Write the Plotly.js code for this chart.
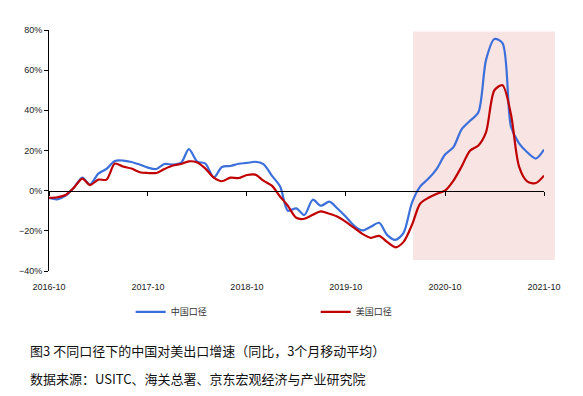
<!DOCTYPE html>
<html>
<head>
<meta charset="utf-8">
<script src="https://cdn.plot.ly/plotly-3.0.1.min.js"></script>
<style>html,body{margin:0;padding:0;background:#fff;}#chart{width:583px;height:396px;}</style>
</head>
<body>
<div id="chart"></div>
<script>
// Months 2016-10 .. 2021-10
const months = [];
for (let i = 0; i <= 60; i++) {
  const y = 2016 + Math.floor((9 + i) / 12);
  const m = ((9 + i) % 12) + 1;
  months.push(y + '-' + String(m).padStart(2, '0') + '-01');
}
const chinaCaliber = [
  -3.6, -4.3, -2.5, 1.5, 6.5, 3, 8.5, 10.8, 14.8, 15,
  14.3, 13, 11.5, 10.8, 13.3, 13, 14, 20.7, 14.5, 13.5,
  6.5, 11.8, 12.3, 13.4, 13.8, 14.4, 13.2, 7.5, 2, -10,
  -8.8, -12.1, -4.5, -7.5, -5.5, -9, -13, -17.5, -19.8, -18,
  -16, -22, -24.5, -21, -6, 2, 6, 11, 18, 21.7,
  30.5, 34.8, 39, 65, 75.5, 73.5, 32, 23.5, 19, 16,
  20.5
];
const usCaliber = [
  -3.6, -3.3, -2.2, 1.5, 6, 2.8, 5.5, 5.5, 13.5, 12,
  11, 9.2, 8.8, 8.8, 10.8, 12.5, 13.3, 14.6, 14, 11,
  6.5, 4.7, 6.5, 6.3, 7.8, 8, 5, 2.5, -3, -7.5,
  -13.5, -14, -12, -10.3, -11.5, -13, -15.5, -18.5, -21.5, -23.5,
  -22.5, -25.5, -28.2, -25.5, -17, -6.5, -3.5, -1.5, 0, 5,
  12, 19.9, 22.5, 29, 50, 52.5, 38, 12, 4.5, 3.8,
  7.5
];
const seriesNames = ['中国口径', '美国口径'];
const shadeStart = '2020-06-05', shadeEnd = '2021-11-10';
const shadeLow = -34.5, shadeHigh = 79.3;

const xStart = months[0], xEnd = months[months.length - 1];
const t0 = new Date(xStart).getTime(), t1 = new Date(xEnd).getTime();
const frac = d => (new Date(d).getTime() - t0) / (t1 - t0);

const yMin = -40, yMax = 80;

const traces = [
  {x: months, y: chinaCaliber, name: seriesNames[0], type: 'scatter', mode: 'lines',
   line: {color: '#3B6FDB', width: 2.2, shape: 'spline', smoothing: 0.8}},
  {x: months, y: usCaliber, name: seriesNames[1], type: 'scatter', mode: 'lines',
   line: {color: '#C00000', width: 2.2, shape: 'spline', smoothing: 0.8}}
];

const tickFont = {family: 'Liberation Sans, Arial, sans-serif', size: 9, color: '#222'};
const layout = {
  width: 583, height: 396,
  margin: {l: 49, r: 39, t: 30, b: 125},
  paper_bgcolor: '#fff', plot_bgcolor: 'rgba(0,0,0,0)',
  showlegend: true,
  xaxis: {
    type: 'date', range: [xStart, xEnd],
    anchor: 'free', position: (0 - yMin) / (yMax - yMin),
    showline: true, linecolor: '#000', linewidth: 1,
    ticks: 'outside', ticklen: 4, tickcolor: '#000',
    tick0: xStart, dtick: 'M12', tickformat: '%Y-%m',
    ticklabelstandoff: 84,
    showgrid: false, zeroline: false, tickfont: tickFont
  },
  yaxis: {
    range: [yMin, yMax], dtick: 20, ticksuffix: '%',
    showline: true, linecolor: '#000', linewidth: 1,
    ticks: 'outside', ticklen: 4, tickcolor: '#000',
    showgrid: false, zeroline: false, tickfont: tickFont
  },
  shapes: [{
    type: 'rect', layer: 'below', xref: 'paper', yref: 'y',
    x0: frac(shadeStart), x1: frac(shadeEnd), y0: shadeLow, y1: shadeHigh,
    fillcolor: '#F9E4E4', line: {width: 0}
  }],
  legend: {
    orientation: 'h', x: 0.165, xanchor: 'left', y: -0.17, yanchor: 'middle',
    entrywidth: 140, font: {family: 'Noto Sans CJK SC, sans-serif', size: 9, color: '#333'},
    bgcolor: 'rgba(0,0,0,0)'
  },
  annotations: [
    {xref: 'paper', yref: 'paper', x: -0.043, y: -0.33, xanchor: 'left', yanchor: 'middle',
     showarrow: false, text: '图3 不同口径下的中国对美出口增速（同比，3个月移动平均）',
     font: {family: 'Noto Sans CJK SC, sans-serif', size: 13, color: '#111'}},
    {xref: 'paper', yref: 'paper', x: -0.043, y: -0.445, xanchor: 'left', yanchor: 'middle',
     showarrow: false, text: '数据来源：USITC、海关总署、京东宏观经济与产业研究院',
     font: {family: 'Noto Sans CJK SC, sans-serif', size: 13, color: '#111'}}
  ]
};
Plotly.newPlot('chart', traces, layout, {displayModeBar: false, staticPlot: true});
</script>
</body>
</html>
